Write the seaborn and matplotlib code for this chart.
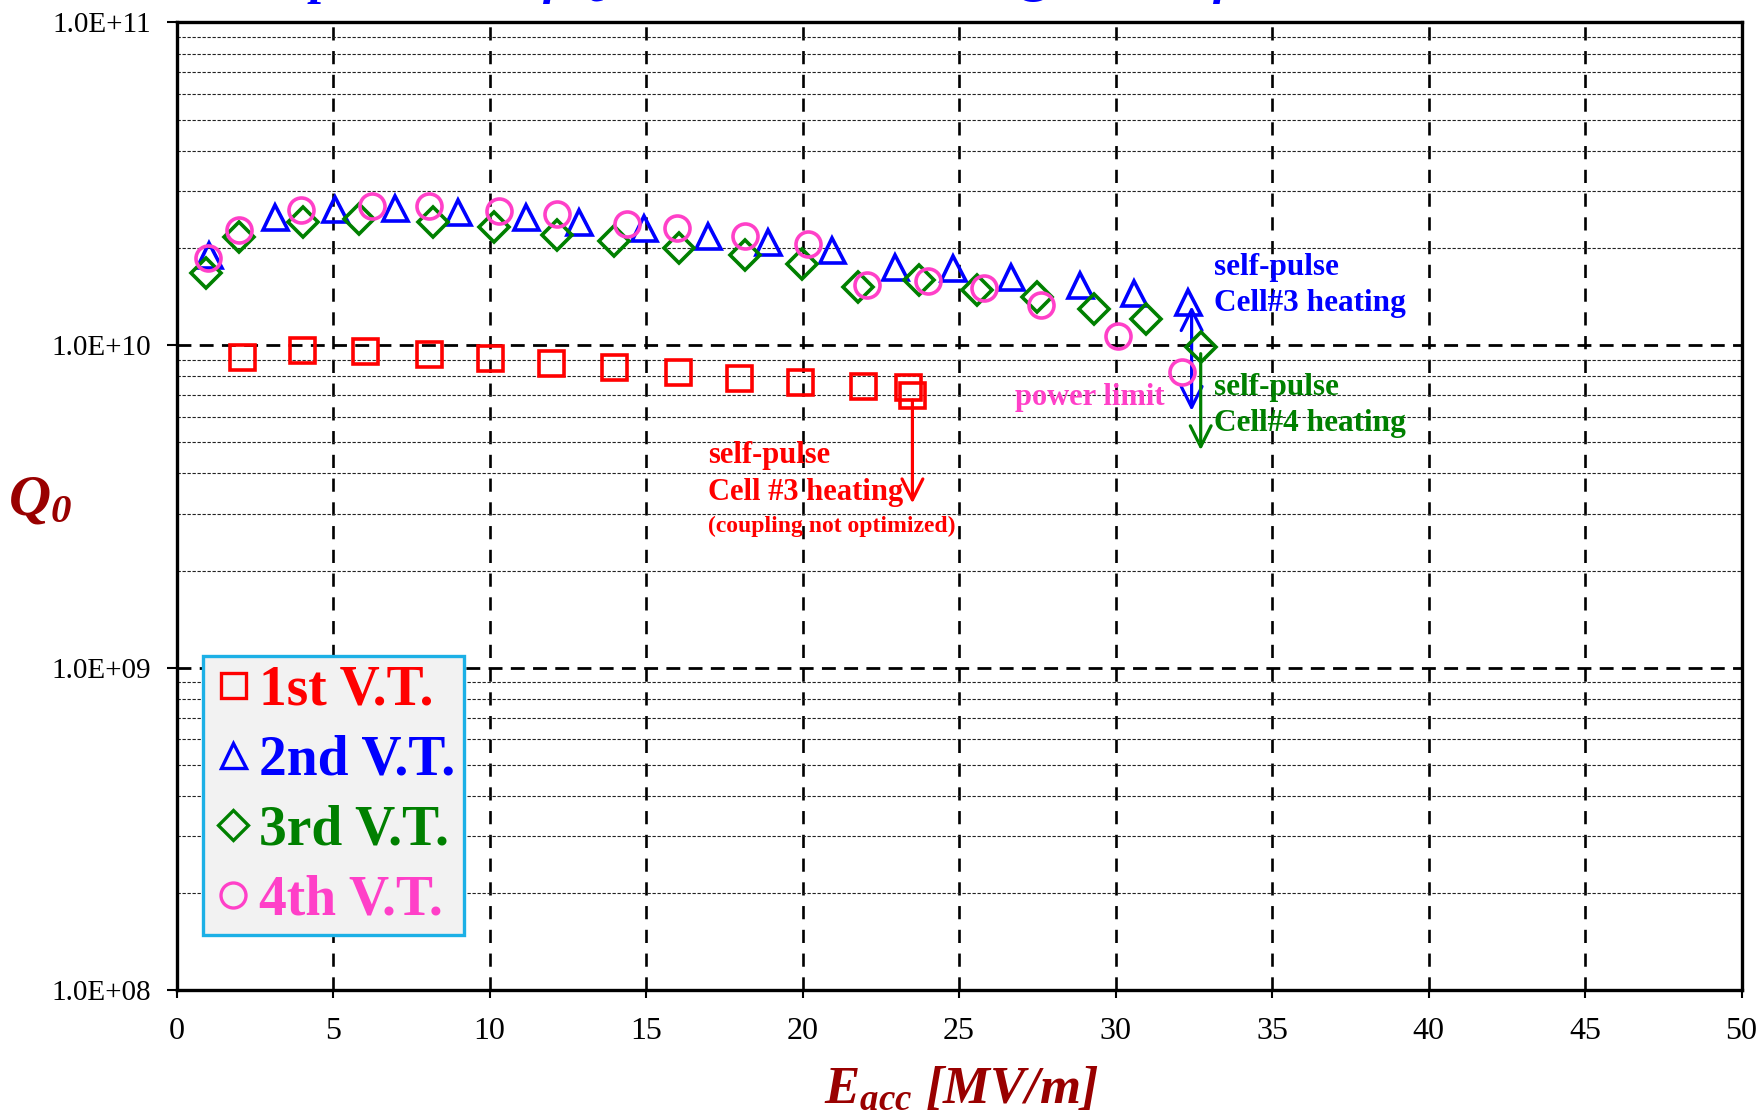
import matplotlib
matplotlib.use('Agg')
import matplotlib.pyplot as plt
from matplotlib.lines import Line2D
from matplotlib.ticker import LogLocator, NullFormatter, FixedLocator
import pandas as pd
import seaborn as sns

# ---------------- data ----------------
vt1_eacc = [2.09, 4.01, 6.03, 8.06, 10.02, 11.96, 13.99, 16.03, 17.98, 19.92, 21.92, 23.38, 23.51]
vt1_q0 = [9.16e9, 9.65e9, 9.60e9, 9.38e9, 9.13e9, 8.78e9, 8.53e9, 8.27e9, 7.92e9, 7.70e9, 7.48e9, 7.43e9, 7.0e9]

vt2_eacc = [1.05, 3.16, 5.07, 6.99, 8.98, 11.17, 12.87, 14.95, 16.99, 18.91, 20.93, 22.96, 24.82, 26.65, 28.87, 30.59, 32.33]
vt2_q0 = [1.90e10, 2.49e10, 2.64e10, 2.66e10, 2.59e10, 2.50e10, 2.41e10, 2.30e10, 2.17e10, 2.08e10, 1.97e10,
          1.75e10, 1.73e10, 1.62e10, 1.54e10, 1.45e10, 1.36e10]

vt3_eacc = [0.94, 2.01, 4.03, 5.84, 8.18, 10.15, 12.15, 13.99, 16.06, 18.16, 19.97, 21.78, 23.73, 25.56, 27.48,
            29.31, 30.97, 32.72]
vt3_q0 = [1.67e10, 2.16e10, 2.41e10, 2.45e10, 2.41e10, 2.33e10, 2.20e10, 2.10e10, 2.00e10, 1.90e10, 1.78e10,
          1.51e10, 1.59e10, 1.48e10, 1.41e10, 1.29e10, 1.20e10, 9.88e9]

vt4_eacc = [1.0, 2.01, 3.96, 6.25, 8.08, 10.29, 12.15, 14.38, 15.98, 18.16, 20.17, 22.05, 24.02, 25.81, 27.62,
            30.07, 32.11]
vt4_q0 = [1.86e10, 2.27e10, 2.62e10, 2.70e10, 2.70e10, 2.61e10, 2.54e10, 2.38e10, 2.31e10, 2.17e10, 2.06e10,
          1.54e10, 1.58e10, 1.50e10, 1.33e10, 1.07e10, 8.27e9]

series_names = ["1st V.T.", "2nd V.T.", "3rd V.T.", "4th V.T."]
x_ticks = [0, 5, 10, 15, 20, 25, 30, 35, 40, 45, 50]
y_ticks = [1e8, 1e9, 1e10, 1e11]
y_tick_labels = ["1.0E+08", "1.0E+09", "1.0E+10", "1.0E+11"]

title_text = r"Dependence of $Q_0$ on $E_{acc}$ measured @ 2.0 K of 9-cell"

# ---------------- style ----------------
RED, BLUE, GREEN, PINK = "#ff0000", "#0000ff", "#008000", "#ff40c8"
DARKRED = "#990000"
markers = ["s", "^", "D", "o"]
msizes = [18, 18, 15.5, 18]
colors = [RED, BLUE, GREEN, PINK]

sns.set_theme(style="white")
plt.rcParams["font.family"] = ["Liberation Serif", "DejaVu Serif"]
plt.rcParams["mathtext.fontset"] = "custom"
plt.rcParams["mathtext.it"] = "Liberation Serif:italic:bold"
plt.rcParams["mathtext.rm"] = "Liberation Serif:italic:bold"
plt.rcParams["mathtext.bf"] = "Liberation Serif:bold"

fig = plt.figure(figsize=(17.62, 11.16), dpi=100)
ax = fig.add_axes([0.1002, 0.1127, 0.8882, 0.8672])
ax.set_yscale("log")

all_x = [vt1_eacc, vt2_eacc, vt3_eacc, vt4_eacc]
all_y = [vt1_q0, vt2_q0, vt3_q0, vt4_q0]
for name, xs, ys, m, ms, c in zip(series_names, all_x, all_y, markers, msizes, colors):
    df = pd.DataFrame({"Eacc": xs, "Q0": ys})
    sns.lineplot(data=df, x="Eacc", y="Q0", ax=ax, estimator=None, sort=False,
                 linestyle="", marker=m, markersize=ms, markerfacecolor="none",
                 markeredgecolor=c, markeredgewidth=2.6, color=c, legend=False, zorder=5)

ax.set_xlim(0, 50)
ax.set_ylim(1e8, 1e11)
ax.set_xlabel("")
ax.set_ylabel("")

ax.xaxis.set_major_locator(FixedLocator(x_ticks))
ax.set_xticklabels([str(t) for t in x_ticks])
ax.yaxis.set_major_locator(FixedLocator(y_ticks))
ax.set_yticklabels(y_tick_labels)
ax.yaxis.set_minor_locator(LogLocator(base=10, subs=range(2, 10)))
ax.yaxis.set_minor_formatter(NullFormatter())

ax.set_axisbelow(True)
ax.yaxis.grid(True, which="major", color="black", lw=2.0, linestyle=(0, (5, 3)))
ax.yaxis.grid(True, which="minor", color="#222222", lw=0.8, linestyle=(0, (3, 1.5)))
ax.xaxis.grid(True, which="major", color="black", lw=1.9, linestyle=(0, (5, 4)))

ax.tick_params(axis="y", which="major", direction="out", length=7, width=1.5, labelsize=21,
               pad=11, left=True, colors="black")
ax.tick_params(axis="y", which="minor", length=0, left=False)
ax.tick_params(axis="x", which="major", direction="out", length=6, width=1.5, labelsize=23,
               pad=13, bottom=True, colors="black")
for s in ax.spines.values():
    s.set_linewidth(2.4)
    s.set_color("black")
    s.set_visible(True)

# axis titles
fig.text(40 / 1762, 1 - 500 / 1116, r"$Q_0$", ha="center", va="center", fontsize=42, color=DARKRED)
fig.text(961 / 1762, 1 - 1090 / 1116, r"$E_{acc}$ [MV/m]", ha="center", va="center", fontsize=38,
         style="italic", weight="bold", color=DARKRED)

# clipped title at top
fig.text(0.143, 1.006, title_text, ha="left", va="baseline", fontsize=36, style="italic",
         weight="bold", color=BLUE)

# legend
handles = [Line2D([], [], linestyle="", marker=m, markersize=ms, markerfacecolor="none",
                  markeredgecolor=c, markeredgewidth=2.4) for m, ms, c in zip(markers, msizes, colors)]
leg = ax.legend(handles, series_names, loc="lower left", bbox_to_anchor=(0.017, 0.057),
                borderaxespad=0, prop={"family": "Liberation Serif", "weight": "bold", "size": 40},
                handlelength=0.75, handletextpad=0.1, borderpad=0.16, labelspacing=0.32,
                frameon=True, fancybox=False, framealpha=1)
leg.get_frame().set_facecolor("#f2f2f2")
leg.get_frame().set_edgecolor("#1cb0e6")
leg.get_frame().set_linewidth(2.4)
for t, c in zip(leg.get_texts(), colors):
    t.set_color(c)
leg.set_zorder(10)

# annotations
afont = dict(family="Liberation Serif", weight="bold")
ax.text(33.13, 1.53e10, "self-pulse\nCell#3 heating", ha="left", va="center", fontsize=22.5,
        color=BLUE, linespacing=1.3, **afont)
ax.text(33.13, 6.49e9, "self-pulse\nCell#4 heating", ha="left", va="center", fontsize=22.5,
        color=GREEN, linespacing=1.3, **afont)
ax.text(31.58, 6.86e9, "power limit", ha="right", va="center", fontsize=22, color=PINK, **afont)
ax.text(16.98, 3.98e9, "self-pulse\nCell #3 heating", ha="left", va="center", fontsize=22,
        color=RED, linespacing=1.35, **afont)
ax.text(16.98, 2.74e9, "(coupling not optimized)", ha="left", va="center", fontsize=17,
        color=RED, **afont)

ax.annotate("", xy=(23.51, 3.23e9), xytext=(23.51, 6.75e9),
            arrowprops=dict(arrowstyle="->,head_length=0.5,head_width=0.25", color=RED, lw=2.3,
                            mutation_scale=30, shrinkA=0, shrinkB=0))
ax.annotate("", xy=(32.43, 6.25e9), xytext=(32.43, 1.32e10),
            arrowprops=dict(arrowstyle="<->,head_length=0.5,head_width=0.25", color=BLUE, lw=2.3,
                            mutation_scale=30, shrinkA=0, shrinkB=0))
ax.annotate("", xy=(32.72, 4.72e9), xytext=(32.72, 9.4e9),
            arrowprops=dict(arrowstyle="->,head_length=0.5,head_width=0.25", color=GREEN, lw=2.3,
                            mutation_scale=30, shrinkA=0, shrinkB=0))

fig.savefig("out.png", dpi=100)
